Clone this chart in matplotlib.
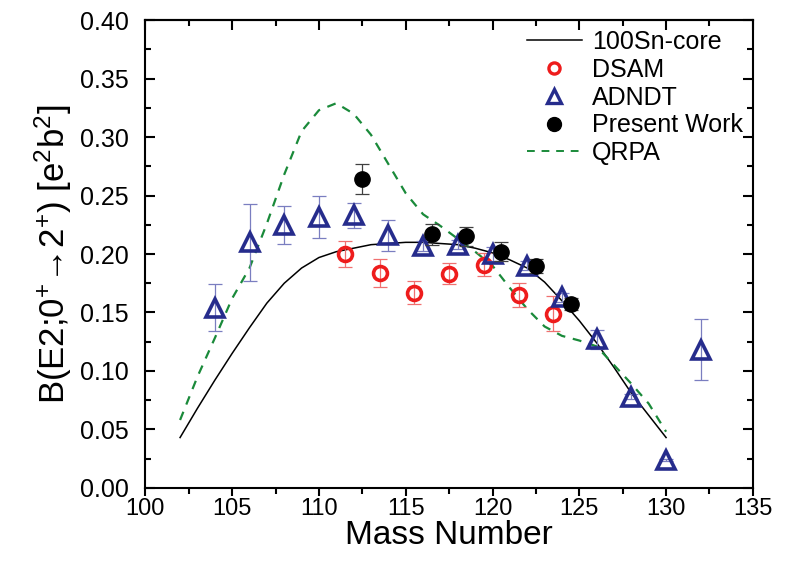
import numpy as np
import matplotlib.pyplot as plt
from matplotlib.lines import Line2D

plt.rcParams['font.family'] = ['Liberation Sans', 'DejaVu Sans']
plt.rcParams['mathtext.fontset'] = 'custom'
plt.rcParams['mathtext.rm'] = 'Liberation Sans'
plt.rcParams['mathtext.it'] = 'Liberation Sans'

# 100Sn-core calculation
core_a = [102, 103, 104, 105, 106, 107, 108, 109, 110, 111, 112, 113, 114, 115,
          116, 117, 118, 119, 120, 121, 122, 123, 124, 125, 126, 127, 128, 129, 130]
core_b = [0.043, 0.068, 0.092, 0.115, 0.137, 0.158, 0.175, 0.188, 0.197, 0.202,
          0.205, 0.208, 0.209, 0.210, 0.210, 0.209, 0.208, 0.205, 0.201, 0.195,
          0.188, 0.176, 0.160, 0.143, 0.124, 0.103, 0.081, 0.062, 0.043]

# QRPA
qrpa_a = core_a
qrpa_b = [0.058, 0.095, 0.128, 0.162, 0.188, 0.226, 0.268, 0.305, 0.323, 0.329,
          0.320, 0.302, 0.277, 0.252, 0.234, 0.224, 0.213, 0.202, 0.190, 0.171,
          0.153, 0.138, 0.130, 0.126, 0.121, 0.105, 0.089, 0.072, 0.048]

# DSAM
dsam_a = [111.5, 113.5, 115.5, 117.5, 119.5, 121.5, 123.5]
dsam_b = [0.200, 0.184, 0.167, 0.183, 0.191, 0.165, 0.149]
dsam_err = [0.011, 0.012, 0.010, 0.009, 0.010, 0.010, 0.015]

# ADNDT
adndt_a = [104, 106, 108, 110, 112, 114, 116, 118, 120, 122, 124, 126, 128, 130, 132]
adndt_b = [0.154, 0.210, 0.225, 0.232, 0.233, 0.216, 0.207, 0.208, 0.200, 0.190,
           0.163, 0.127, 0.078, 0.024, 0.118]
adndt_err = [0.020, 0.033, 0.016, 0.018, 0.011, 0.013, 0.004, 0.004, 0.006, 0.004,
             0.004, 0.008, 0.002, 0.001, 0.026]

# Present work
pw_a = [112.5, 116.5, 118.5, 120.5, 122.5, 124.5]
pw_b = [0.264, 0.217, 0.215, 0.202, 0.190, 0.157]
pw_err = [0.013, 0.009, 0.008, 0.008, 0.006, 0.005]

red = '#ee1c1c'
blue = '#262c8c'
green = '#1a8a3a'

fig = plt.figure(figsize=(7.9, 5.62), dpi=100)
ax = fig.add_axes([0.184, 0.132, 0.769, 0.832])

ax.plot(core_a, core_b, color='black', lw=1.1, zorder=2)
ax.errorbar(dsam_a, dsam_b, yerr=dsam_err, fmt='none', ecolor='#f07070',
            elinewidth=0.9, capsize=5, capthick=0.9, zorder=3)
ax.plot(dsam_a, dsam_b, ls='none', marker='o', ms=10, mfc='none', mec=red,
        markeredgewidth=2.6, zorder=3)
ax.errorbar(adndt_a, adndt_b, yerr=adndt_err, fmt='none', ecolor='#7a7ec0',
            elinewidth=0.9, capsize=5, capthick=0.9, zorder=4)
ax.plot(adndt_a, adndt_b, ls='none', marker='^', ms=13, mfc='none', mec=blue,
        markeredgewidth=2.6, zorder=4)
ax.errorbar(pw_a, pw_b, yerr=pw_err, fmt='none', ecolor='#404040',
            elinewidth=0.9, capsize=5, capthick=0.9, zorder=5)
ax.plot(pw_a, pw_b, ls='none', marker='o', ms=11, mfc='black', mec='black', zorder=5)
ax.plot(qrpa_a, qrpa_b, color=green, lw=1.6, ls=(0, (4, 3.5)), zorder=2)

ax.set_xlim(100, 135)
ax.set_ylim(0, 0.40)
ax.set_xticks(np.arange(100, 136, 5))
ax.set_xticks(np.arange(102.5, 135, 5), minor=True)
ax.set_yticks(np.arange(0, 0.401, 0.05))
ax.set_yticks(np.arange(0.025, 0.4, 0.05), minor=True)
ax.yaxis.set_major_formatter(plt.FormatStrFormatter('%.2f'))

ax.tick_params(axis='y', which='both', direction='in', right=True, labelsize=18, pad=12)
ax.tick_params(which='major', length=7, width=1.5)
ax.tick_params(which='minor', length=4, width=1.5)
ax.tick_params(axis='x', which='both', direction='out', top=False, labelsize=17, pad=1)
ax.tick_params(axis='x', which='major', length=6)
sec = ax.secondary_xaxis('top')
sec.set_xticks(np.arange(100, 136, 5))
sec.set_xticks(np.arange(102.5, 135, 5), minor=True)
sec.tick_params(which='both', direction='in', labeltop=False, width=1.5)
sec.tick_params(which='major', length=7)
sec.tick_params(which='minor', length=4)
sec.spines['top'].set_linewidth(1.5)
for s in ax.spines.values():
    s.set_linewidth(1.5)

ax.set_xlabel('Mass Number', fontsize=24, labelpad=0)
ax.set_ylabel('B(E2;0$^{+}$\u2192' + '2$^{+}$) [e$^{2}$b$^{2}$]', fontsize=25, labelpad=4)

handles = [
    Line2D([], [], color='black', lw=1.1),
    Line2D([], [], ls='none', marker='o', ms=8, mfc='none', mec=red, mew=2.4),
    Line2D([], [], ls='none', marker='^', ms=10, mfc='none', mec=blue, mew=2.4),
    Line2D([], [], ls='none', marker='o', ms=10, mfc='black', mec='black'),
    Line2D([], [], color=green, lw=1.4, ls=(0, (4, 3.5))),
]
labels = ['100Sn-core', 'DSAM', 'ADNDT', 'Present Work', 'QRPA']
ax.legend(handles, labels, loc='upper right', frameon=False, fontsize=18,
          handlelength=2.2, borderaxespad=0.1, borderpad=0.3,
          labelspacing=0.15, handletextpad=0.4)

plt.savefig('out.png', dpi=100)
